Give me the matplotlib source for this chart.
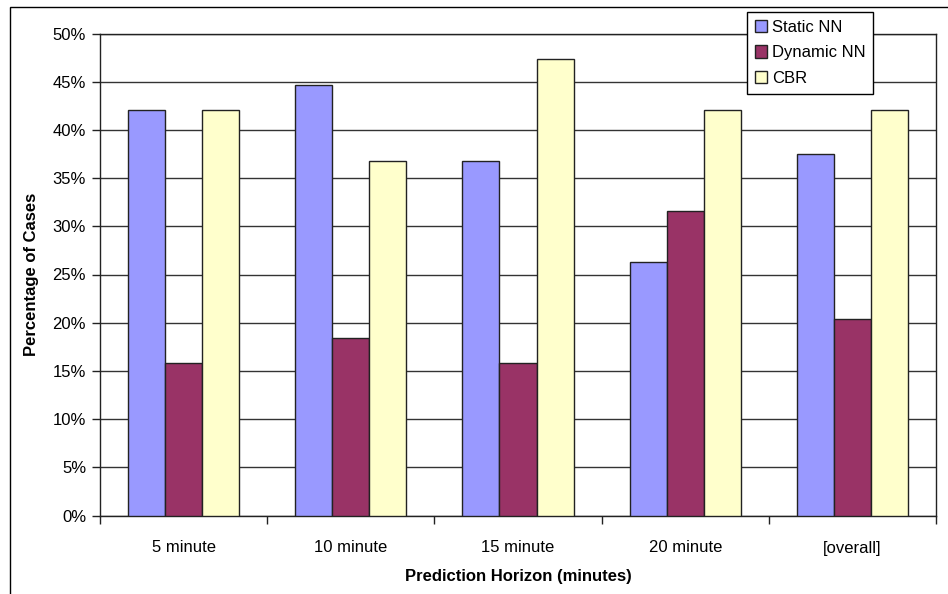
import matplotlib.pyplot as plt
import matplotlib.patches as mpatches
from matplotlib.ticker import FuncFormatter, FixedLocator
import numpy as np

plt.rcParams['font.family'] = ['Liberation Sans', 'DejaVu Sans']

categories = ['5 minute', '10 minute', '15 minute', '20 minute', '[overall]']
static_nn  = [42.1, 44.7, 36.8, 26.3, 37.5]
dynamic_nn = [15.8, 18.4, 15.8, 31.6, 20.4]
cbr        = [42.1, 36.8, 47.4, 42.1, 42.1]

series = [('Static NN', static_nn, '#9999FF'),
          ('Dynamic NN', dynamic_nn, '#993366'),
          ('CBR', cbr, '#FFFFCC')]

fig = plt.figure(figsize=(9.48, 5.94), dpi=100)
ax = fig.add_axes([100/948, 1 - 515.5/594, 836/948, 482/594])

x = np.arange(len(categories))
w = 0.222
for i, (name, vals, col) in enumerate(series):
    ax.bar(x + (i - 1) * w, vals, width=w, color=col, edgecolor='#222222',
           linewidth=1.0, label=name, zorder=3)

ax.set_xlim(-0.5, len(categories) - 0.5)
ax.set_ylim(0, 50)
ax.set_yticks(np.arange(0, 51, 5))
ax.yaxis.set_major_formatter(FuncFormatter(lambda v, p: '%d%%' % v))
ax.yaxis.grid(True, color='#333333', linewidth=1.0, zorder=0)

ax.set_xticks(x)
ax.set_xticklabels(categories)
ax.xaxis.set_minor_locator(FixedLocator(np.arange(-0.5, len(categories), 1)))
ax.tick_params(axis='x', which='major', length=0, pad=18, labelsize=12)
ax.tick_params(axis='x', which='minor', length=6, width=1, color='#222222')
ax.tick_params(axis='y', length=6, width=1, color='#222222', labelsize=12, pad=4)

for s in ax.spines.values():
    s.set_color('#222222')
    s.set_linewidth(1.0)

ax.set_xlabel('Prediction Horizon (minutes)', fontsize=12, fontweight='bold', labelpad=10)
ax.set_ylabel('Percentage of Cases', fontsize=12, fontweight='bold', labelpad=10)

leg = fig.legend(loc='upper left', bbox_to_anchor=(747/948, 1 - 12/594),
                 fancybox=False, shadow=False, framealpha=1, edgecolor='black',
                 fontsize=12, handlelength=0.75, handleheight=0.75,
                 handletextpad=0.3, labelspacing=0.65, borderpad=0.45,
                 borderaxespad=0)
leg.get_frame().set_linewidth(1.0)

# outer chart border
fig.patches.append(mpatches.Rectangle((10/948, -0.1), 1.2, 1 - 7/594 + 0.1,
                                      transform=fig.transFigure, fill=False,
                                      edgecolor='black', linewidth=1.0))

fig.savefig('out.png', dpi=100)
